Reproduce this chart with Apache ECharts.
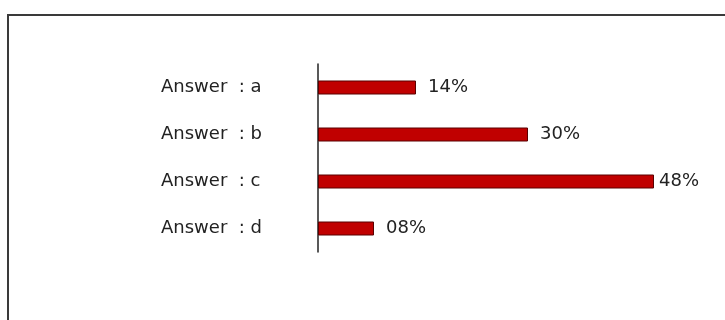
<!DOCTYPE html>
<html>
<head>
<meta charset="utf-8">
<script src="https://cdn.jsdelivr.net/npm/echarts@6/dist/echarts.min.js"></script>
<style>
  html, body { margin: 0; padding: 0; background: #fff; }
  #chart { width: 725px; height: 320px; }
</style>
</head>
<body>
<div id="chart"></div>
<script>
// Answer categories, top to bottom
const answers = ['Answer  : a', 'Answer  : b', 'Answer  : c', 'Answer  : d'];
// Share of responses per answer (percent)
const shares = [14, 30, 48, 8];
// Gap between bar end and its label
const labelGaps = [12, 12, 5, 12];

const chart = echarts.init(document.getElementById('chart'), null, { renderer: 'canvas' });

const textFont = { fontFamily: 'DejaVu Sans', fontSize: 18, color: '#222' };

chart.setOption({
  animation: false,
  backgroundColor: '#ffffff',
  graphic: [{
    type: 'rect',
    shape: { x: 8, y: 15, width: 740, height: 330 },
    style: { fill: 'none', stroke: '#3a3a3a', lineWidth: 2 },
    silent: true
  }],
  grid: { left: 318, top: 64, width: 350, height: 188 },
  xAxis: {
    type: 'value', min: 0, max: 50,
    show: false
  },
  yAxis: {
    type: 'category',
    data: answers,
    inverse: true,
    axisLine: { show: true, lineStyle: { color: '#222', width: 1.5 } },
    axisTick: { show: false },
    axisLabel: Object.assign({ margin: 157, align: 'left', padding: [0, 0, 4, 0] }, textFont),
    splitLine: { show: false }
  },
  series: [{
    type: 'bar',
    barWidth: 14,
    data: shares.map((v, i) => ({
      value: v,
      label: { distance: labelGaps[i] }
    })),
    itemStyle: { color: '#c00000', borderColor: '#5a0000', borderWidth: 1 },
    label: Object.assign({
      show: true,
      position: 'right',
      formatter: p => String(p.value).padStart(2, '0') + '%',
      padding: [0, 0, 4, 0]
    }, textFont)
  }]
});
</script>
</body>
</html>
